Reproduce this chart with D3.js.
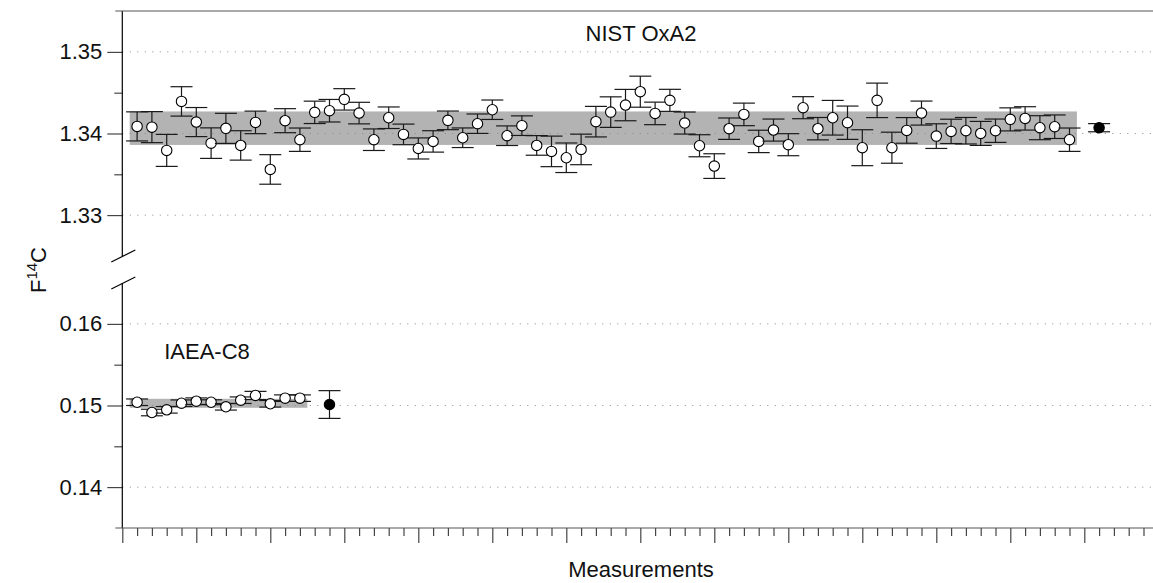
<!DOCTYPE html>
<html>
<head>
<meta charset="utf-8">
<script src="https://cdn.jsdelivr.net/npm/d3@7"></script>
<style>
  html, body { margin: 0; padding: 0; background: #fff; }
  svg { display: block; font-family: "Liberation Sans", Arial, Helvetica, sans-serif; }
</style>
</head>
<body>
<svg id="chart" width="1153" height="583"></svg>
<script>
// ---------------- data ----------------
const oxa2Values = [
  1.34087, 1.34078, 1.33793, 1.34393, 1.34140, 1.33882, 1.34063, 1.33854, 1.34136, 1.33560,
  1.34157, 1.33924, 1.34259, 1.34279, 1.34418, 1.34250, 1.33924, 1.34193, 1.33989, 1.33817,
  1.33903, 1.34161, 1.33948, 1.34120, 1.34291, 1.33973, 1.34096, 1.33854, 1.33781, 1.33703,
  1.33805, 1.34145, 1.34262, 1.34348, 1.34512, 1.34246, 1.34406, 1.34128, 1.33850, 1.33601,
  1.34059, 1.34234, 1.33903, 1.34042, 1.33863, 1.34316, 1.34059, 1.34193, 1.34132, 1.33826,
  1.34406, 1.33826, 1.34038, 1.34250, 1.33968, 1.34026, 1.34034, 1.34001, 1.34034, 1.34173,
  1.34185, 1.34071, 1.34083, 1.33924
];
const oxa2Errors = [
  0.00178, 0.00190, 0.00196, 0.00180, 0.00178, 0.00187, 0.00184, 0.00180, 0.00138, 0.00181,
  0.00147, 0.00143, 0.00137, 0.00138, 0.00131, 0.00132, 0.00132, 0.00132, 0.00126, 0.00129,
  0.00131, 0.00114, 0.00120, 0.00119, 0.00119, 0.00120, 0.00120, 0.00120, 0.00187, 0.00181,
  0.00187, 0.00187, 0.00187, 0.00192, 0.00190, 0.00138, 0.00135, 0.00135, 0.00135, 0.00151,
  0.00131, 0.00138, 0.00137, 0.00135, 0.00135, 0.00135, 0.00137, 0.00212, 0.00204, 0.00220,
  0.00211, 0.00190, 0.00157, 0.00147, 0.00151, 0.00149, 0.00162, 0.00147, 0.00143, 0.00141,
  0.00143, 0.00147, 0.00144, 0.00143
];
const oxa2Mean = 1.34071;
const oxa2MeanError = 0.00050;
const oxa2Band = [1.33860, 1.34270];

const c8Values = [
  0.15040, 0.14914, 0.14947, 0.15028, 0.15053, 0.15040, 0.14984, 0.15065, 0.15123, 0.15021,
  0.15090, 0.15090
];
const c8Errors = [
  0.00040, 0.00040, 0.00040, 0.00040, 0.00040, 0.00030, 0.00040, 0.00040, 0.00050, 0.00040,
  0.00040, 0.00040
];
const c8Mean = 0.15012;
const c8MeanError = 0.00170;
const c8Band = [0.14972, 0.15082];

const topTicksMajor = [1.33, 1.34, 1.35];
const topTicksMinor = [1.335, 1.345];
const bottomTicksMajor = [0.14, 0.15, 0.16];
const bottomTicksMinor = [0.145, 0.155];

const panelTitles = ["NIST OxA2", "IAEA-C8"];
const xLabel = "Measurements";

// ---------------- layout ----------------
const W = 1153, H = 583;
const svg = d3.select("#chart");

const x = d3.scaleLinear().domain([0, 70]).range([122.3, 1158.3]);
const yTop = d3.scaleLinear().domain([1.325, 1.355]).range([256, 11]);
const yBot = d3.scaleLinear().domain([0.135, 0.165]).range([528, 283]);

const FONT = 22;
const axisX = x(0);

// bands
function band(yScale, b, n) {
  svg.append("rect")
    .attr("x", x(0.5))
    .attr("width", x(n + 0.5) - x(0.5))
    .attr("y", yScale(b[1]))
    .attr("height", yScale(b[0]) - yScale(b[1]))
    .attr("fill", "#b3b3b3");
}
band(yTop, oxa2Band, oxa2Values.length);
band(yBot, c8Band, c8Values.length);

// dotted grid lines
function grid(yScale, ticks) {
  svg.append("g").selectAll("line").data(ticks).join("line")
    .attr("x1", axisX).attr("x2", W)
    .attr("y1", d => yScale(d)).attr("y2", d => yScale(d))
    .attr("stroke", "#8a8a8a").attr("stroke-width", 1)
    .attr("stroke-dasharray", "1,6.5");
}
grid(yTop, topTicksMajor);
grid(yBot, bottomTicksMajor);

// y axes
function yAxis(yScale, major, minor) {
  const g = svg.append("g").attr("transform", `translate(${axisX},0)`);
  g.call(d3.axisLeft(yScale).tickValues(major).tickSize(15).tickSizeOuter(0)
      .tickPadding(5).tickFormat(d3.format(".2f")));
  g.select(".domain").remove();
  g.selectAll("text").attr("font-size", FONT).attr("fill", "#111")
    .attr("font-family", "Liberation Sans, Arial, sans-serif");
  g.selectAll("line").attr("stroke", "#222");
  const gm = svg.append("g").attr("transform", `translate(${axisX},0)`);
  gm.call(d3.axisLeft(yScale).tickValues(minor).tickSize(8).tickSizeOuter(0).tickFormat(""));
  gm.select(".domain").remove();
  gm.selectAll("line").attr("stroke", "#222");
  const r = yScale.range();
  svg.append("line").attr("x1", axisX).attr("x2", axisX)
    .attr("y1", r[0]).attr("y2", r[1]).attr("stroke", "#000").attr("stroke-width", 1.2);
}
yAxis(yTop, topTicksMajor, topTicksMinor);
yAxis(yBot, bottomTicksMajor, bottomTicksMinor);

// break marks
[yTop.range()[0], yBot.range()[1]].forEach(yb => {
  svg.append("line")
    .attr("x1", axisX - 11).attr("y1", yb + 6)
    .attr("x2", axisX + 13).attr("y2", yb - 6)
    .attr("stroke", "#000").attr("stroke-width", 1.2);
});

// top frame line
svg.append("line").attr("x1", axisX - 7).attr("x2", W)
  .attr("y1", yTop.range()[1]).attr("y2", yTop.range()[1])
  .attr("stroke", "#555").attr("stroke-width", 1.2);

// bottom x axis
const xMajor = d3.range(0, 70, 5);
const xMinor = d3.range(0, 70).filter(d => d % 5 !== 0);
const baseY = yBot.range()[0];
const gx = svg.append("g").attr("transform", `translate(0,${baseY})`);
gx.call(d3.axisBottom(x).tickValues(xMajor).tickSize(15).tickFormat(""));
gx.select(".domain").remove();
gx.selectAll("line").attr("stroke", "#444").attr("stroke-width", 1.2);
const gx2 = svg.append("g").attr("transform", `translate(0,${baseY})`);
gx2.call(d3.axisBottom(x).tickValues(xMinor).tickSize(8).tickFormat(""));
gx2.select(".domain").remove();
gx2.selectAll("line").attr("stroke", "#444").attr("stroke-width", 1.2);
svg.append("line").attr("x1", axisX - 7).attr("x2", W)
  .attr("y1", baseY).attr("y2", baseY)
  .attr("stroke", "#555").attr("stroke-width", 1.2);

// points with error bars
const CAP = 11;
function series(yScale, vals, errs, filled, startIndex) {
  const data = vals.map((v, i) => ({ i: startIndex + i, v, e: errs[i] }));
  const g = svg.append("g");
  const pt = g.selectAll("g").data(data).join("g");
  pt.append("line")
    .attr("x1", d => x(d.i)).attr("x2", d => x(d.i))
    .attr("y1", d => yScale(d.v - d.e)).attr("y2", d => yScale(d.v + d.e))
    .attr("stroke", "#1a1a1a").attr("stroke-width", 1.2);
  pt.append("line")
    .attr("x1", d => x(d.i) - CAP).attr("x2", d => x(d.i) + CAP)
    .attr("y1", d => yScale(d.v + d.e)).attr("y2", d => yScale(d.v + d.e))
    .attr("stroke", "#1a1a1a").attr("stroke-width", 1.2);
  pt.append("line")
    .attr("x1", d => x(d.i) - CAP).attr("x2", d => x(d.i) + CAP)
    .attr("y1", d => yScale(d.v - d.e)).attr("y2", d => yScale(d.v - d.e))
    .attr("stroke", "#1a1a1a").attr("stroke-width", 1.2);
  pt.append("circle")
    .attr("cx", d => x(d.i)).attr("cy", d => yScale(d.v))
    .attr("r", 5.2)
    .attr("fill", filled ? "#000" : "#fff")
    .attr("stroke", "#000").attr("stroke-width", 1.1);
}
series(yTop, oxa2Values, oxa2Errors, false, 1);
series(yTop, [oxa2Mean], [oxa2MeanError], true, oxa2Values.length + 2);
series(yBot, c8Values, c8Errors, false, 1);
series(yBot, [c8Mean], [c8MeanError], true, c8Values.length + 2);

// panel titles
svg.append("text").attr("x", 641).attr("y", 41)
  .attr("text-anchor", "middle").attr("font-size", FONT).attr("fill", "#111")
  .text(panelTitles[0]);
svg.append("text").attr("x", 207).attr("y", 359)
  .attr("text-anchor", "middle").attr("font-size", FONT).attr("fill", "#111")
  .text(panelTitles[1]);

// x label
svg.append("text").attr("x", 641).attr("y", 577)
  .attr("text-anchor", "middle").attr("font-size", FONT).attr("fill", "#111")
  .text(xLabel);

// y label F^14C
const yl = svg.append("text")
  .attr("transform", "translate(46,270) rotate(-90)")
  .attr("text-anchor", "middle").attr("font-size", FONT).attr("fill", "#111");
yl.append("tspan").text("F");
yl.append("tspan").attr("dy", -9).attr("font-size", 15).text("14");
yl.append("tspan").attr("dy", 9).text("C");
</script>
</body>
</html>
